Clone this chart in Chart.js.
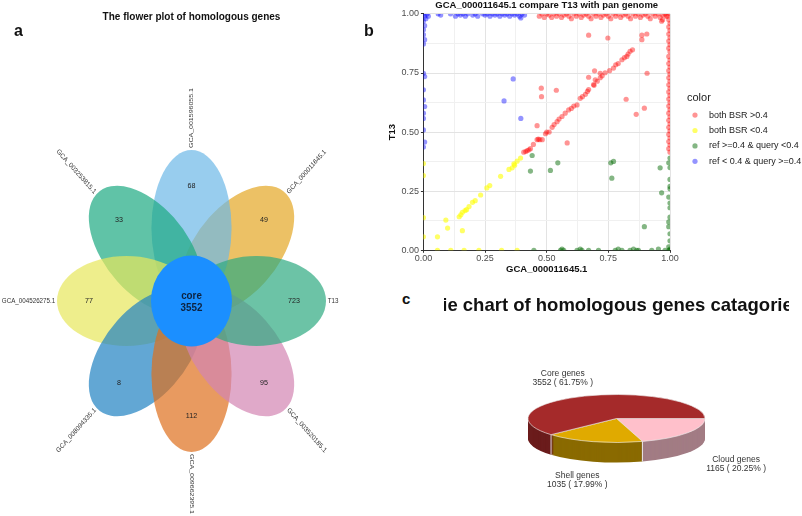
<!DOCTYPE html>
<html>
<head>
<meta charset="utf-8">
<script src="https://cdn.jsdelivr.net/npm/chart.js@4.4.0/dist/chart.umd.min.js"></script>
<style>
  body { margin: 0; background: #fff; width: 802px; height: 516px; position: relative; overflow: hidden;
         font-family: "Liberation Sans", Arial, sans-serif; }
  .box { position: absolute; }
  .tag { position: absolute; font-weight: bold; color: #111; line-height: 1; }
</style>
</head>
<body>
<div class="box" style="left:0;top:0;width:383px;height:516px"><canvas id="flower"></canvas></div>
<div class="box" style="left:376px;top:0;width:426px;height:278px"><canvas id="bsr"></canvas></div>
<div class="box" style="left:444px;top:290px;width:345px;height:226px;overflow:hidden">
  <div class="box" style="left:-15px;top:0;width:380px;height:226px"><canvas id="pie"></canvas></div>
</div>
<div class="tag" style="left:14px;top:23px;font-size:16px">a</div>
<div class="tag" style="left:364px;top:23px;font-size:16px">b</div>
<div class="tag" style="left:402px;top:291px;font-size:15px">c</div>

<script>
// ---- panel a: flower plot ----
const GENOMES = ["GCA_000011645.1", "GCA_001596055.1", "GCA_003253815.1", "GCA_004526275.1",
                 "GCA_008094335.1", "GCA_009662395.1", "GCA_003520185.1", "T13"];
const UNIQUE = [49, 68, 33, 77, 8, 112, 95, 723];
const CORE = 3552;
const PETAL_COLORS = ["rgba(228,167,36,0.7)", "rgba(108,184,231,0.7)", "rgba(29,169,129,0.7)",
                      "rgba(231,231,91,0.7)", "rgba(32,129,194,0.7)", "rgba(222,111,28,0.7)",
                      "rgba(211,132,178,0.7)", "rgba(46,169,128,0.7)"];

// ---- panel b: BSR scatter ----
const BOTH_HIGH = [
  [0.47,0.99],[0.48,1],[0.49,0.985],[0.5,1],[0.51,0.995],[0.52,0.985],[0.53,1],[0.54,0.99],[0.55,1],[0.56,0.985],
  [0.57,0.995],[0.58,1],[0.59,0.99],[0.6,0.98],[0.61,1],[0.62,0.99],[0.63,1],[0.64,0.985],[0.65,0.995],[0.66,1],
  [0.67,0.99],[0.68,0.98],[0.69,1],[0.7,0.99],[0.71,1],[0.72,0.985],[0.73,0.995],[0.74,1],[0.75,0.99],[0.76,0.98],
  [0.77,1],[0.78,0.99],[0.79,1],[0.8,0.985],[0.81,0.995],[0.82,1],[0.83,0.99],[0.84,0.98],[0.85,1],[0.86,0.99],
  [0.87,1],[0.88,0.985],[0.89,0.995],[0.9,1],[0.91,0.99],[0.92,0.98],[0.93,1],[0.94,0.99],[0.95,1],[0.96,0.985],
  [0.97,0.995],[0.98,1],[0.99,0.99],[1,1],[0.995,0.975],[0.985,0.99],
  [1,0.96],[0.995,0.945],[1,0.93],[0.995,0.915],[1,0.9],[0.995,0.885],[1,0.87],[0.995,0.855],[1,0.84],[0.995,0.82],
  [1,0.805],[0.995,0.79],[1,0.775],[0.995,0.76],[1,0.745],[0.995,0.73],[1,0.715],[0.995,0.7],[1,0.685],[0.995,0.67],
  [1,0.655],[0.995,0.64],[1,0.625],[0.995,0.61],[1,0.595],[0.995,0.58],[1,0.565],[0.995,0.55],[1,0.535],[0.995,0.52],
  [1,0.505],[0.995,0.49],[1,0.475],[0.995,0.46],[1,0.445],[0.995,0.43],[1,0.415],
  [0.407,0.415],[0.415,0.418],[0.421,0.422],[0.428,0.425],[0.434,0.43],[0.446,0.448],[0.461,0.468],[0.466,0.47],
  [0.472,0.468],[0.482,0.468],[0.495,0.493],[0.5,0.5],[0.51,0.5],[0.522,0.52],[0.53,0.532],[0.542,0.544],
  [0.55,0.555],[0.562,0.566],[0.575,0.58],[0.589,0.594],[0.6,0.6],[0.61,0.61],[0.623,0.615],[0.636,0.643],
  [0.645,0.65],[0.657,0.66],[0.665,0.672],[0.67,0.68],[0.69,0.701],[0.692,0.698],[0.705,0.715],[0.717,0.73],
  [0.725,0.738],[0.737,0.751],[0.755,0.76],[0.771,0.771],[0.78,0.785],[0.79,0.79],[0.805,0.806],[0.815,0.815],
  [0.825,0.82],[0.83,0.83],[0.838,0.842],[0.848,0.848],[0.966,0.969],[0.97,0.975],
  [0.67,0.91],[0.748,0.898],[0.886,0.91],[0.906,0.915],[0.886,0.891],[0.907,0.749],[0.67,0.732],[0.694,0.759],
  [0.717,0.749],[0.697,0.721],[0.822,0.639],[0.896,0.601],[0.863,0.575],[0.478,0.686],[0.539,0.677],
  [0.479,0.65],[0.461,0.527],[0.583,0.454]
];
const BOTH_LOW = [
  [0.057,0.057],[0.091,0.128],[0.098,0.094],[0.158,0.083],[0.145,0.142],[0.152,0.15],[0.158,0.161],[0.169,0.168],
  [0.175,0.172],[0.185,0.185],[0.199,0.203],[0.21,0.21],[0.232,0.234],[0.257,0.264],[0.269,0.274],[0.313,0.313],
  [0.347,0.342],[0.36,0.349],[0.367,0.366],[0.38,0.377],[0.394,0.39],[0.37,0.36],
  [0,0.367],[0,0.316],[0,0.138],[0,0.057],
  [0.057,0],[0.111,0],[0.165,0],[0.225,0],[0.317,0],[0.38,0]
];
const REF_ONLY = [
  [0.434,0.335],[0.441,0.401],[0.515,0.338],[0.545,0.37],[0.76,0.37],[0.771,0.376],[0.764,0.305],[0.96,0.349],
  [0.966,0.243],[0.896,0.1],
  [0.448,0],[0.556,0],[0.562,0.005],[0.569,0],[0.623,0],[0.636,0.005],[0.643,0],[0.67,0],[0.71,0],[0.778,0],
  [0.79,0.005],[0.805,0],[0.838,0],[0.852,0.005],[0.865,0],[0.872,0],[0.926,0],[0.953,0.005],[0.98,0],[0.996,0],
  [1,0],[1,0.005],
  [1,0.39],[0.995,0.37],[1,0.35],[1,0.3],[1,0.27],[1,0.26],[0.995,0.225],[1,0.2],[1,0.18],[1,0.14],[0.995,0.12],
  [0.995,0.1],[1,0.07],[1,0.04],[0.995,0.015]
];
const QUERY_ONLY = [
  [0,1],[0.005,0.99],[0.01,0.98],[0.015,1],[0.02,0.99],[0.06,1],[0.07,0.995],[0.11,1],[0.13,0.99],[0.14,1],
  [0.15,0.995],[0.16,1],[0.17,0.99],[0.18,1],[0.2,0.995],[0.21,1],[0.22,0.99],[0.24,1],[0.25,0.995],[0.26,1],
  [0.27,0.99],[0.28,1],[0.29,0.995],[0.3,1],[0.31,0.99],[0.32,1],[0.33,0.995],[0.34,1],[0.35,0.99],[0.36,1],
  [0.37,0.995],[0.38,1],[0.39,0.99],[0.4,1],[0.41,0.995],[0.395,0.983],
  [0,0.97],[0.005,0.95],[0,0.933],[0,0.912],[0.005,0.891],[0,0.873],[0,0.749],[0.005,0.735],[0,0.679],[0,0.636],
  [0.005,0.608],[0,0.58],[0,0.558],[0,0.509],[0.005,0.458],[0,0.437],
  [0.364,0.725],[0.327,0.632],[0.395,0.558]
];
const SERIES = ["both BSR >0.4", "both BSR <0.4", "ref >=0.4 & query <0.4", "ref < 0.4 & query >=0.4"];
const SERIES_COLORS = ["rgba(255,0,0,0.42)", "rgba(255,255,0,0.6)", "rgba(10,110,10,0.5)", "rgba(0,0,255,0.42)"];
const AXIS_TICKS = [0, 0.25, 0.5, 0.75, 1];

// ---- panel c: 3D pie ----
const PIE_LABELS = ["Cloud genes", "Shell genes", "Core genes"];
const PIE_COUNTS = [1165, 1035, 3552];
const PIE_TOP = ["#ffc0cb", "#e0aa00", "#a52a2a"];
const PIE_SIDE = ["#a27c84", "#8a6a00", "#6b1c1c"];

Chart.defaults.font.family = '"Liberation Sans", Arial, sans-serif';
Chart.defaults.animation = false;

// petals are ellipses in data units; the plugin draws them through the chart scales
const PETAL_A = 78, PETAL_B = 45, PETAL_D = 73, CORE_R = 45.5;
const flowerPlugin = {
  id: "flower",
  afterDatasetsDraw(chart) {
    const { ctx, scales: { x, y } } = chart;
    const ox = x.getPixelForValue(0), oy = y.getPixelForValue(0);
    const sx = x.getPixelForValue(1) - ox, sy = oy - y.getPixelForValue(1);
    const squeeze = sx / sy;
    const angles = UNIQUE.map((_, i) => (45 + 45 * i) * Math.PI / 180);
    UNIQUE.forEach((n, i) => {
      ctx.save();
      ctx.translate(ox, oy); ctx.scale(sx, -sy); ctx.rotate(angles[i]);
      ctx.beginPath();
      ctx.ellipse(PETAL_D, 0, PETAL_A, PETAL_B, 0, 0, Math.PI * 2);
      ctx.restore();
      ctx.fillStyle = PETAL_COLORS[i];
      ctx.fill();
    });
    ctx.save();
    ctx.translate(ox, oy); ctx.scale(sx, -sy);
    ctx.beginPath(); ctx.arc(0, 0, CORE_R, 0, Math.PI * 2);
    ctx.restore();
    ctx.fillStyle = "#1b8fff"; ctx.fill();

    // text is squeezed horizontally like the rest of the panel
    const put = (txt, px, py, rot, align) => {
      ctx.save();
      ctx.translate(px, py); ctx.scale(squeeze, 1); ctx.rotate(rot);
      ctx.textAlign = align;
      ctx.fillText(txt, 0, 0);
      ctx.restore();
    };
    ctx.save();
    ctx.textBaseline = "middle";
    ctx.font = '8px "Liberation Sans", Arial';
    ctx.fillStyle = "#222";
    UNIQUE.forEach((n, i) => {
      const a = angles[i];
      put(String(n), ox + sx * 115 * Math.cos(a), oy - sy * 115 * Math.sin(a), 0, "center");
    });
    ctx.fillStyle = "#333";
    ctx.font = '7px "Liberation Sans", Arial';
    GENOMES.forEach((g, i) => {
      const a = angles[i];
      const px = ox + sx * 153 * Math.cos(a), py = oy - sy * 153 * Math.sin(a);
      if (Math.cos(a) > -1e-9) put(g, px, py, -a, "left");
      else put(g, px, py, -(a - Math.PI), "right");
    });
    ctx.fillStyle = "#0d2240";
    ctx.font = 'bold 11px "Liberation Sans", Arial';
    put("core", ox, oy - 5, 0, "center");
    put(String(CORE), ox, oy + 7, 0, "center");
    ctx.restore();
  }
};

new Chart(document.getElementById("flower"), {
  type: "scatter",
  data: { datasets: [{ data: [] }] },
  options: {
    responsive: true, maintainAspectRatio: false,
    layout: { padding: 0 },
    plugins: {
      legend: { display: false }, tooltip: { enabled: false },
      title: { display: true, text: "The flower plot of homologous genes", color: "#111",
               font: { size: 10, weight: "bold" }, padding: { top: 11, bottom: 0 } }
    },
    scales: {
      x: { display: false, min: -215, max: 215 },
      y: { display: false, min: -215, max: 278 }
    }
  },
  plugins: [flowerPlugin]
});

// ---- panel b ----
const isMajor = v => AXIS_TICKS.some(t => Math.abs(t - v) < 1e-9);
const gridColor = c => isMajor(c.tick.value) ? "#e3e3e3" : "#f0f0f0";
const tickColor = c => isMajor(c.tick.value) ? "#333" : "rgba(0,0,0,0)";
const axis = (title, pad) => ({
  min: 0, max: 1,
  ticks: { stepSize: 0.125, autoSkip: false, maxRotation: 0, color: "#4d4d4d", font: { size: 9 }, padding: pad,
           callback: v => isMajor(v) ? v.toFixed(2) : "" },
  grid: { color: gridColor, tickColor: tickColor, tickLength: 2.5 },
  border: { display: true, color: "#333", width: 1 },
  title: { display: true, text: title, color: "#111", font: { size: 9.5, weight: "bold" }, padding: { top: 0, bottom: 1 } }
});

// legend drawn to the right of the panel, like ggplot's guide
const sideLegend = {
  id: "sideLegend",
  afterDraw(chart) {
    const { ctx, chartArea: ca } = chart;
    const cy = (ca.top + ca.bottom) / 2;
    const x0 = ca.right + 17;
    ctx.save();
    ctx.textBaseline = "middle"; ctx.textAlign = "left";
    ctx.fillStyle = "#222";
    ctx.font = '11px "Liberation Sans", Arial';
    ctx.fillText("color", x0, cy - 34);
    ctx.font = '9px "Liberation Sans", Arial';
    chart.data.datasets.forEach((ds, i) => {
      const yy = cy - 17 + i * 15.4;
      ctx.beginPath(); ctx.arc(x0 + 8, yy, 2.6, 0, Math.PI * 2);
      ctx.fillStyle = ds.backgroundColor; ctx.fill();
      ctx.fillStyle = "#222";
      ctx.fillText(ds.label, x0 + 22, yy);
    });
    ctx.restore();
  }
};

new Chart(document.getElementById("bsr"), {
  type: "scatter",
  data: {
    datasets: [BOTH_HIGH, BOTH_LOW, REF_ONLY, QUERY_ONLY].map((pts, i) => ({
      label: SERIES[i],
      data: pts.map(([x, y]) => ({ x, y })),
      backgroundColor: SERIES_COLORS[i],
      borderWidth: 0, pointRadius: 2.6, pointHoverRadius: 2.6
    }))
  },
  options: {
    responsive: true, maintainAspectRatio: false,
    layout: { padding: { left: 11, right: 132, top: 0, bottom: 2 } },
    plugins: {
      tooltip: { enabled: false },
      legend: { display: false },
      title: { display: true, fullSize: false, text: "GCA_000011645.1 compare T13 with pan genome", color: "#111",
               font: { size: 9.5, weight: "bold" }, padding: { top: 0, bottom: 2.5 } }
    },
    scales: { x: axis("GCA_000011645.1", 0), y: axis("T13", 2) }
  },
  plugins: [sideLegend]
});

// ---- panel c ----
const SQUASH = 24 / 88.5, DEPTH = 20;
const pie3d = {
  id: "pie3d",
  beforeDatasetsDraw(chart) {
    const ctx = chart.ctx;
    const arcs = chart.getDatasetMeta(0).data;
    const { x, y } = arcs[0];
    const r = arcs[0].outerRadius, ry = r * SQUASH;
    ctx.save();
    for (let k = DEPTH; k > 0; k--) {
      arcs.forEach((a, i) => {
        ctx.beginPath();
        ctx.moveTo(x, y + k);
        ctx.ellipse(x, y + k, r, ry, 0, a.startAngle, a.endAngle);
        ctx.closePath();
        ctx.fillStyle = PIE_SIDE[i];
        ctx.fill();
      });
    }
    ctx.strokeStyle = "rgba(235,235,235,0.9)"; ctx.lineWidth = 1;
    arcs.forEach(a => {
      if (Math.sin(a.startAngle) > 0) {
        const ex = x + r * Math.cos(a.startAngle), ey = y + ry * Math.sin(a.startAngle);
        ctx.beginPath(); ctx.moveTo(ex, ey); ctx.lineTo(ex, ey + DEPTH); ctx.stroke();
      }
    });
    ctx.restore();
    ctx.save();
    ctx.translate(x, y); ctx.scale(1, SQUASH); ctx.translate(-x, -y);
  },
  afterDatasetsDraw(chart) {
    const ctx = chart.ctx;
    ctx.restore();
    const arcs = chart.getDatasetMeta(0).data;
    const total = PIE_COUNTS.reduce((s, v) => s + v, 0);
    ctx.save();
    ctx.font = '8.5px "Liberation Sans", Arial';
    ctx.fillStyle = "#333"; ctx.textAlign = "center"; ctx.textBaseline = "middle";
    arcs.forEach((a, i) => {
      const mid = (a.startAngle + a.endAngle) / 2;
      const r = a.outerRadius;
      const lx = a.x + 1.68 * r * Math.cos(mid);
      const ly = a.y + 1.8 * r * SQUASH * Math.sin(mid) + (Math.sin(mid) > 0 ? DEPTH : 0);
      const pct = (PIE_COUNTS[i] / total * 100).toFixed(2);
      ctx.fillText(PIE_LABELS[i], lx, ly - 4.5);
      ctx.fillText(PIE_COUNTS[i] + " ( " + pct + "% )", lx, ly + 4.5);
    });
    ctx.restore();
  }
};

new Chart(document.getElementById("pie"), {
  type: "pie",
  data: {
    labels: PIE_LABELS,
    datasets: [{ data: PIE_COUNTS, backgroundColor: PIE_TOP, borderColor: "#eeeeee", borderWidth: 1,
                 rotation: 90, radius: 88.5 }]
  },
  options: {
    responsive: true, maintainAspectRatio: false,
    layout: { padding: { right: 5, bottom: 6 } },
    plugins: {
      legend: { display: false }, tooltip: { enabled: false },
      title: { display: true, text: "Pie chart of homologous genes catagories", color: "#111",
               font: { size: 18.5, weight: "bold" }, padding: { top: 5, bottom: 9.8 } }
    }
  },
  plugins: [pie3d]
});
</script>
</body>
</html>
